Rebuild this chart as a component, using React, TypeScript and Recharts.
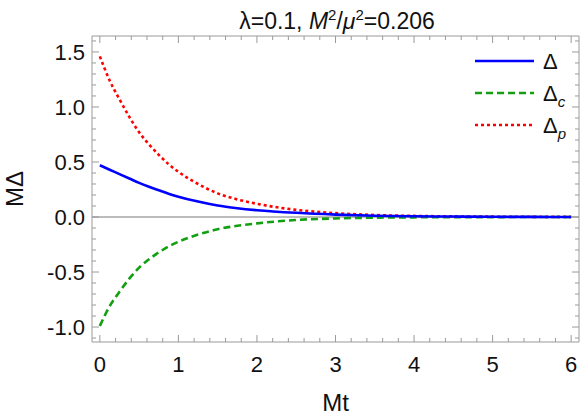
import React from 'react';
import { LineChart, Line, XAxis, YAxis, ReferenceLine } from 'recharts';

// values
const mt = [0, 0.125, 0.25, 0.375, 0.5, 0.625, 0.75, 0.875, 1, 1.25, 1.5, 1.75, 2, 2.5, 3, 3.5, 4, 4.5, 5, 5.5, 6];
const delta = [0.47, 0.43, 0.39, 0.35, 0.31, 0.275, 0.243, 0.212, 0.185, 0.14, 0.104, 0.08, 0.062, 0.038, 0.022, 0.012, 0.007, 0.004, 0.002, 0.001, 0.0005];
const deltaC = [-0.99, -0.81, -0.68, -0.56, -0.46, -0.385, -0.322, -0.268, -0.225, -0.16, -0.111, -0.08, -0.058, -0.027, -0.013, -0.006, -0.003, -0.0015, -0.001, 0, 0];
const deltaP = [1.46, 1.24, 1.07, 0.91, 0.77, 0.66, 0.565, 0.48, 0.41, 0.3, 0.215, 0.16, 0.12, 0.065, 0.035, 0.018, 0.01, 0.0055, 0.003, 0.0015, 0.001];

const xMajor = [0, 1, 2, 3, 4, 5, 6];
const yMajor = [-1.0, -0.5, 0.0, 0.5, 1.0, 1.5];

const data = mt.map((t, i) => ({ t, d: delta[i], dc: deltaC[i], dp: deltaP[i] }));

const xTicks: number[] = [];
for (let i = 0; i <= 30; i++) xTicks.push(Math.round(i * 2) / 10);
const yTicks: number[] = [];
for (let i = -11; i <= 16; i++) yTicks.push(i / 10);

const isXMajor = (v: number) => xMajor.some((m) => Math.abs(m - v) < 1e-6);
const isYMajor = (v: number) => yMajor.some((m) => Math.abs(m - v) < 1e-6);

const FONT = '"Liberation Sans", Arial, Helvetica, sans-serif';
const FRAME = '#9a9a9a';
const MAJOR = 7;
const MINOR = 4;

const BottomTick = (props: any) => {
  const { x, y, payload } = props;
  const major = isXMajor(payload.value);
  return (
    <g>
      <line x1={x} x2={x} y1={y} y2={y - (major ? MAJOR : MINOR)} stroke={FRAME} />
      {major && (
        <text x={x} y={y + 30} textAnchor="middle" fontSize={22} fontFamily={FONT} fill="#111">
          {payload.value}
        </text>
      )}
    </g>
  );
};

const TopTick = (props: any) => {
  const { x, y, payload } = props;
  const major = isXMajor(payload.value);
  return <line x1={x} x2={x} y1={y} y2={y + (major ? MAJOR : MINOR)} stroke={FRAME} />;
};

const LeftTick = (props: any) => {
  const { x, y, payload } = props;
  const major = isYMajor(payload.value);
  return (
    <g>
      <line x1={x} x2={x + (major ? MAJOR : MINOR)} y1={y} y2={y} stroke={FRAME} />
      {major && (
        <text x={x - 7} y={y} dy="0.36em" textAnchor="end" fontSize={22} fontFamily={FONT} fill="#111">
          {payload.value.toFixed(1)}
        </text>
      )}
    </g>
  );
};

const RightTick = (props: any) => {
  const { x, y, payload } = props;
  const major = isYMajor(payload.value);
  return <line x1={x} x2={x - (major ? MAJOR : MINOR)} y1={y} y2={y} stroke={FRAME} />;
};

const legendItems = [
  { name: 'Δ', sub: '', color: '#0000ff', dash: undefined },
  { name: 'Δ', sub: 'c', color: '#12a012', dash: '7 4' },
  { name: 'Δ', sub: 'p', color: '#ff0000', dash: '3 3' },
];

export default function App() {
  return (
    <div style={{ position: 'absolute', left: 0, top: 0, width: 586, height: 415, background: '#fff', fontFamily: FONT }}>
      <div
        style={{
          position: 'absolute',
          left: 92,
          width: 490,
          top: 1,
          textAlign: 'center',
          fontSize: 23,
          lineHeight: '27px',
          color: '#111',
        }}
      >
        λ=0.1, <i>M</i>
        <sup style={{ fontSize: 15 }}>2</sup>/<i>μ</i>
        <sup style={{ fontSize: 15 }}>2</sup>=0.206
      </div>
      <LineChart width={586} height={415} data={data} margin={{ top: 0, right: 0, bottom: 0, left: 0 }}>
        <XAxis
          xAxisId="b"
          dataKey="t"
          type="number"
          domain={[-0.1, 6.1]}
          ticks={xTicks}
          interval={0}
          height={73}
          tickSize={0}
          tickMargin={0}
          tickLine={false}
          axisLine={{ stroke: FRAME }}
          tick={BottomTick}
          allowDataOverflow
          label={{
            content: (p: any) => {
              const vb = p.viewBox;
              return (
                <text x={vb.x + vb.width / 2} y={vb.y + 69} textAnchor="middle" fontSize={24} fontFamily={FONT} fill="#111">
                  Mt
                </text>
              );
            },
          }}
        />
        <XAxis
          xAxisId="t"
          orientation="top"
          dataKey="t"
          type="number"
          domain={[-0.1, 6.1]}
          ticks={xTicks}
          interval={0}
          height={36}
          tickSize={0}
          tickMargin={0}
          tickLine={false}
          axisLine={{ stroke: FRAME }}
          tick={TopTick}
          allowDataOverflow
        />
        <YAxis
          yAxisId="l"
          type="number"
          domain={[-1.136, 1.645]}
          ticks={yTicks}
          interval={0}
          width={92}
          tickSize={0}
          tickMargin={0}
          tickLine={false}
          axisLine={{ stroke: FRAME }}
          tick={LeftTick}
          allowDataOverflow
          label={{
            content: (p: any) => {
              const vb = p.viewBox;
              const cy = vb.y + vb.height / 2;
              return (
                <text x={23} y={cy} transform={`rotate(-90 23 ${cy})`} textAnchor="middle" fontSize={24} fontFamily={FONT} fill="#111">
                  MΔ
                </text>
              );
            },
          }}
        />
        <YAxis
          yAxisId="r"
          orientation="right"
          type="number"
          domain={[-1.136, 1.645]}
          ticks={yTicks}
          interval={0}
          width={7}
          tickSize={0}
          tickMargin={0}
          tickLine={false}
          axisLine={{ stroke: FRAME }}
          tick={RightTick}
          allowDataOverflow
        />
        <ReferenceLine xAxisId="b" yAxisId="l" y={0} stroke="#7a7a7a" strokeWidth={1.2} />
        <Line xAxisId="b" yAxisId="l" type="monotone" dataKey="dp" stroke="#ff0000" strokeWidth={2.6} strokeDasharray="3 3" dot={false} isAnimationActive={false} />
        <Line xAxisId="b" yAxisId="l" type="monotone" dataKey="dc" stroke="#12a012" strokeWidth={2.6} strokeDasharray="7 4" dot={false} isAnimationActive={false} />
        <Line xAxisId="b" yAxisId="l" type="monotone" dataKey="d" stroke="#0000ff" strokeWidth={2.6} dot={false} isAnimationActive={false} />
      </LineChart>
      <svg style={{ position: 'absolute', left: 470, top: 40 }} width={115} height={110}>
        {legendItems.map((it, i) => {
          const y = 21 + i * 32;
          return (
            <g key={i}>
              <line x1={5} x2={64} y1={y} y2={y} stroke={it.color} strokeWidth={2.6} strokeDasharray={it.dash} />
              <text x={73} y={y + 8} fontSize={22} fontFamily={FONT} fill="#111">
                {it.name}
                {it.sub && (
                  <tspan fontSize={15} fontStyle="italic" dy={6}>
                    {it.sub}
                  </tspan>
                )}
              </text>
            </g>
          );
        })}
      </svg>
    </div>
  );
}
